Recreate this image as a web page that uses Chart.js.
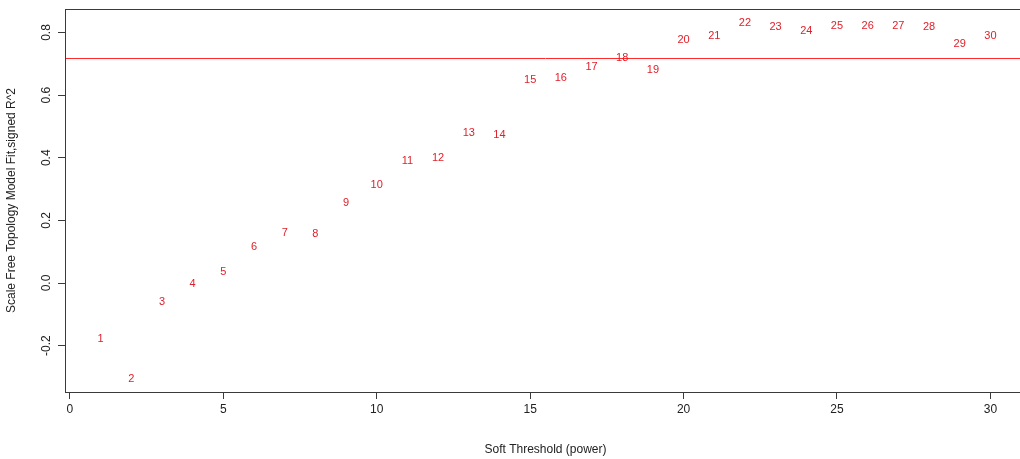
<!DOCTYPE html>
<html>
<head>
<meta charset="utf-8">
<script src="https://cdn.jsdelivr.net/npm/chart.js@4/dist/chart.umd.min.js"></script>
<style>
html,body{margin:0;padding:0;background:#fff;overflow:hidden;width:1020px;height:459px;}
canvas{display:block;}
</style>
</head>
<body>
<canvas id="c" width="1032" height="459"></canvas>
<script>
// Soft-threshold powers and the scale-free topology fit (signed R^2)
const powers = [1,2,3,4,5,6,7,8,9,10,11,12,13,14,15,16,17,18,19,20,21,22,23,24,25,26,27,28,29,30];
const fitValues = [-0.180,-0.305,-0.062,-0.003,0.034,0.114,0.161,0.157,0.257,0.312,
                   0.390,0.399,0.478,0.472,0.649,0.655,0.691,0.719,0.681,0.775,
                   0.790,0.830,0.817,0.806,0.821,0.821,0.822,0.817,0.762,0.789];
const cutoff = 0.72;
const xTicks = [0,5,10,15,20,25,30];
const yTicks = [-0.2,0.0,0.2,0.4,0.6,0.8];
const xLabel = 'Soft Threshold (power)';
const yLabel = 'Scale Free Topology Model Fit,signed R^2';

const xMin = -0.16, xMax = 31.16;
const yMin = -0.348, yMax = 0.875;
const FONT = '"Liberation Sans", Arial, sans-serif';
const AXIS_COL = '#3a3a3a';

const labelPlugin = {
  id: 'labels',
  afterDatasetsDraw(chart) {
    const ctx = chart.ctx;
    const a = chart.chartArea;
    const ys = chart.scales.y;
    ctx.save();
    // cutoff line (abline h = cutoff)
    const ly = Math.round(ys.getPixelForValue(cutoff)) + 0.5;
    ctx.strokeStyle = '#ff2a2a';
    ctx.lineWidth = 1;
    ctx.beginPath();
    ctx.moveTo(a.left, ly);
    ctx.lineTo(a.right, ly);
    ctx.stroke();
    // point labels
    const meta = chart.getDatasetMeta(0);
    ctx.font = '11px ' + FONT;
    ctx.fillStyle = '#e0202a';
    ctx.textAlign = 'center';
    ctx.textBaseline = 'middle';
    meta.data.forEach((el, i) => {
      ctx.fillText(String(powers[i]), el.x, el.y);
    });
    ctx.restore();
  },
  afterDraw(chart) {
    const ctx = chart.ctx;
    const a = chart.chartArea;
    const ys = chart.scales.y;
    ctx.save();
    // box
    ctx.strokeStyle = AXIS_COL;
    ctx.lineWidth = 1;
    ctx.strokeRect(Math.round(a.left) + 0.5, Math.round(a.top) + 0.5,
                   Math.round(a.right - a.left), Math.round(a.bottom - a.top));
    // y tick labels, rotated as in R
    ctx.font = '12px ' + FONT;
    ctx.fillStyle = '#222';
    ctx.textAlign = 'center';
    ctx.textBaseline = 'middle';
    yTicks.forEach(v => {
      const py = ys.getPixelForValue(v);
      ctx.save();
      ctx.translate(47, py);
      ctx.rotate(-Math.PI / 2);
      ctx.fillText(v.toFixed(1), 0, 0);
      ctx.restore();
    });
    ctx.restore();
  }
};

new Chart(document.getElementById('c'), {
  type: 'scatter',
  data: {
    datasets: [
      {
        label: 'fit',
        data: powers.map((p, i) => ({x: p, y: fitValues[i]})),
        pointRadius: 0,
        pointHoverRadius: 0,
        showLine: false
      }
    ]
  },
  options: {
    responsive: false,
    animation: false,
    events: [],
    layout: {padding: {top: 9, right: 6, left: 0, bottom: 0}},
    plugins: {legend: {display: false}, tooltip: {enabled: false}},
    scales: {
      x: {
        type: 'linear',
        min: xMin, max: xMax,
        afterBuildTicks(s) { s.ticks = xTicks.map(v => ({value: v})); },
        afterFit(s) { s.height = 67; },
        grid: {drawOnChartArea: false, drawTicks: true, tickLength: 7, color: AXIS_COL, tickColor: AXIS_COL},
        border: {display: true, color: AXIS_COL},
        ticks: {
          font: {family: FONT, size: 12},
          color: '#222',
          padding: 3,
          maxRotation: 0,
          callback: v => String(v)
        },
        title: {
          display: true,
          text: xLabel,
          font: {family: FONT, size: 12},
          color: '#222',
          padding: {top: 0, bottom: 2}
        }
      },
      y: {
        type: 'linear',
        min: yMin, max: yMax,
        afterBuildTicks(s) { s.ticks = yTicks.map(v => ({value: v})); },
        afterFit(s) { s.width = 65; },
        grid: {drawOnChartArea: false, drawTicks: true, tickLength: 7, color: AXIS_COL, tickColor: AXIS_COL},
        border: {display: true, color: AXIS_COL},
        ticks: {display: true, color: 'rgba(0,0,0,0)', font: {family: FONT, size: 12}, padding: 0},
        title: {
          display: true,
          text: yLabel,
          font: {family: FONT, size: 12},
          color: '#222',
          padding: {top: 4, bottom: 0}
        }
      }
    }
  },
  plugins: [labelPlugin]
});
</script>
</body>
</html>
